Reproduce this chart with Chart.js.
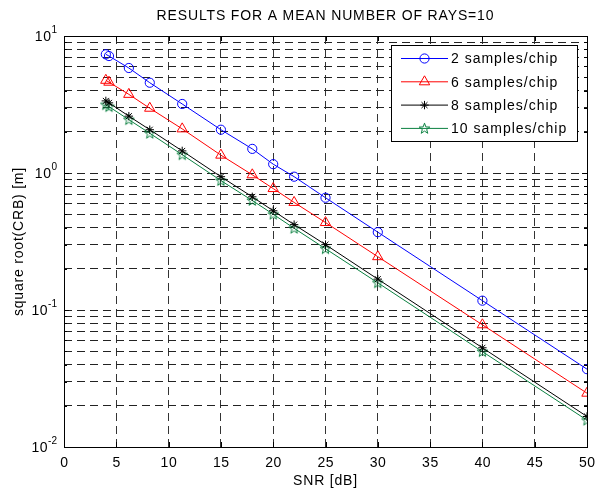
<!DOCTYPE html>
<html>
<head>
<meta charset="utf-8">
<script src="https://cdn.jsdelivr.net/npm/chart.js@4.4.1/dist/chart.umd.min.js"></script>
<style>
  html, body { margin: 0; padding: 0; background: #fff; }
  #wrap { width: 595px; height: 488px; }
</style>
</head>
<body>
<div id="wrap"><canvas id="myChart" width="595" height="488"></canvas></div>
<script>
// SNR values (dB)
const snr = [4, 4.3, 6.2, 8.2, 11.3, 15, 18, 20, 22, 25, 30, 40, 50];

const samples2 = [7.35, 7.14, 5.84, 4.56, 3.19, 2.07, 1.50, 1.16, 0.94, 0.66, 0.37, 0.117, 0.037];
const samples6 = [4.75, 4.60, 3.75, 2.97, 2.10, 1.35, 0.97, 0.77, 0.61, 0.435, 0.245, 0.078, 0.0247];
const samples8 = [3.36, 3.25, 2.60, 2.07, 1.45, 0.94, 0.67, 0.53, 0.42, 0.30, 0.168, 0.053, 0.0167];
const samples10 = [3.15, 3.05, 2.45, 1.95, 1.36, 0.88, 0.63, 0.50, 0.395, 0.28, 0.158, 0.0497, 0.0157];

const seriesNames = ['2 samples/chip', '6 samples/chip', '8 samples/chip', '10 samples/chip'];
const xTicks = [0, 5, 10, 15, 20, 25, 30, 35, 40, 45, 50];
const yDecades = [0.01, 0.1, 1, 10];
const yExponents = ['-2', '-1', '0', '1'];

const FONT = '"Liberation Sans", Arial, Helvetica, sans-serif';

// pentagram marker for the green series
function makePentagram(color) {
    const c = document.createElement('canvas');
    c.width = 13; c.height = 13;
    const g = c.getContext('2d');
    g.strokeStyle = color;
    g.lineWidth = 1;
    g.beginPath();
    const R = 5.6, r = 2.3;
    for (let i = 0; i < 10; i++) {
        const a = -Math.PI / 2 + i * Math.PI / 5;
        const rad = i % 2 === 0 ? R : r;
        const px = 6.5 + rad * Math.cos(a), py = 6.8 + rad * Math.sin(a);
        if (i === 0) g.moveTo(px, py); else g.lineTo(px, py);
    }
    g.closePath();
    g.stroke();
    return c;
}

const green = '#0a8040';
const pentagram = makePentagram(green);

function pts(ys) {
    return snr.map((x, i) => ({ x: x, y: ys[i] }));
}

// all log grid positions: 1..9 per decade
const yGrid = [];
for (let e = -2; e <= 0; e++) {
    for (let m = 1; m <= 9; m++) yGrid.push(+(m * Math.pow(10, e)).toPrecision(3));
}
yGrid.push(10);

function setFont(c, size, spacing) {
    c.font = size + 'px ' + FONT;
    if ('letterSpacing' in c) c.letterSpacing = spacing + 'px';
}

const frameAndLabels = {
    id: 'frameAndLabels',
    afterDraw(chart) {
        const c = chart.ctx;
        const a = chart.chartArea;
        const xs = chart.scales.x, ys = chart.scales.y;
        c.save();
        // axis box
        c.strokeStyle = '#000';
        c.lineWidth = 1;
        c.strokeRect(Math.round(a.left) + 0.5, Math.round(a.top) + 0.5,
            Math.round(a.right - a.left), Math.round(a.bottom - a.top));
        // inward tick marks
        c.beginPath();
        xTicks.forEach(v => {
            const px = Math.round(xs.getPixelForValue(v)) + 0.5;
            c.moveTo(px, a.bottom); c.lineTo(px, a.bottom - 5);
            c.moveTo(px, a.top); c.lineTo(px, a.top + 5);
        });
        yGrid.forEach(v => {
            const py = Math.round(ys.getPixelForValue(v)) + 0.5;
            const len = yDecades.includes(v) ? 5 : 3;
            c.moveTo(a.left, py); c.lineTo(a.left + len, py);
            c.moveTo(a.right, py); c.lineTo(a.right - len, py);
        });
        c.stroke();

        c.fillStyle = '#000';
        // x tick labels
        setFont(c, 14, 0.5);
        c.textAlign = 'center';
        c.textBaseline = 'alphabetic';
        xTicks.forEach(v => {
            c.fillText(String(v), xs.getPixelForValue(v) + 0.3, a.bottom + 20);
        });
        // y tick labels 10^n
        yDecades.forEach((v, i) => {
            const py = ys.getPixelForValue(v);
            setFont(c, 10, 0);
            const ew = c.measureText(yExponents[i]).width;
            c.textAlign = 'left';
            const expX = a.left - 7 - ew;
            c.fillText(yExponents[i], expX, py - 3);
            setFont(c, 14, 0.5);
            c.textAlign = 'right';
            c.fillText('10', expX, py + 5);
        });
        // axis titles
        setFont(c, 14, 0.8);
        c.textAlign = 'center';
        c.fillText('SNR [dB]', (a.left + a.right) / 2, 485);
        c.save();
        c.translate(23, (a.top + a.bottom) / 2);
        c.rotate(-Math.PI / 2);
        c.fillText('square root(CRB) [m]', 0, 0);
        c.restore();
        // title
        setFont(c, 14, 0.85);
        c.fillText('RESULTS FOR A MEAN NUMBER OF RAYS=10', (a.left + a.right) / 2, 20);

        // legend box
        const lx = 391, ly = 45, lw = 186, lh = 96;
        c.fillStyle = '#fff';
        c.fillRect(lx, ly, lw, lh);
        c.strokeStyle = '#000';
        c.strokeRect(lx + 0.5, ly + 0.5, lw, lh);
        chart.data.datasets.forEach((ds, i) => {
            const ry = ly + 13.5 + i * 23.3;
            c.strokeStyle = ds.borderColor;
            c.lineWidth = 1;
            c.beginPath();
            c.moveTo(lx + 10, ry); c.lineTo(lx + 57, ry);
            c.stroke();
            c.fillStyle = 'rgba(0,0,0,0)';
            Chart.helpers.drawPoint(c, {
                pointStyle: ds.pointStyle, radius: ds.pointRadius,
                rotation: 0, borderWidth: 1
            }, lx + 33.5, ry);
            c.fillStyle = '#000';
            setFont(c, 14, 1);
            c.textAlign = 'left';
            c.textBaseline = 'middle';
            c.fillText(ds.label, lx + 60, ry + 1);
        });
        c.restore();
    }
};

function series(label, data, color, style, radius) {
    return {
        label: label,
        data: pts(data),
        borderColor: color,
        backgroundColor: 'rgba(0,0,0,0)',
        pointBorderColor: color,
        pointBackgroundColor: 'rgba(0,0,0,0)',
        pointStyle: style,
        pointRadius: radius,
        pointBorderWidth: 1,
        borderWidth: 1,
        tension: 0
    };
}

new Chart(document.getElementById('myChart'), {
    type: 'line',
    data: {
        datasets: [
            series(seriesNames[0], samples2, '#0000ff', 'circle', 4.6),
            series(seriesNames[1], samples6, '#ff0000', 'triangle', 6),
            series(seriesNames[2], samples8, '#000000', 'star', 4.2),
            series(seriesNames[3], samples10, green, pentagram, 6)
        ]
    },
    options: {
        responsive: false,
        animation: false,
        layout: { padding: { left: 64, right: 8, top: 36, bottom: 41 } },
        plugins: { legend: { display: false }, tooltip: { enabled: false } },
        scales: {
            x: {
                type: 'linear', min: 0, max: 50,
                ticks: { display: false, stepSize: 5 },
                grid: { color: '#333', lineWidth: 1, drawTicks: false },
                border: { display: false, dash: [8, 5] }
            },
            y: {
                type: 'logarithmic', min: 0.01, max: 10,
                afterBuildTicks: function (scale) {
                    scale.ticks = yGrid.map(v => ({ value: v }));
                },
                ticks: { display: false },
                grid: { color: '#222', lineWidth: 1, drawTicks: false },
                border: { display: false, dash: [8, 5] }
            }
        }
    },
    plugins: [frameAndLabels]
});
</script>
</body>
</html>
